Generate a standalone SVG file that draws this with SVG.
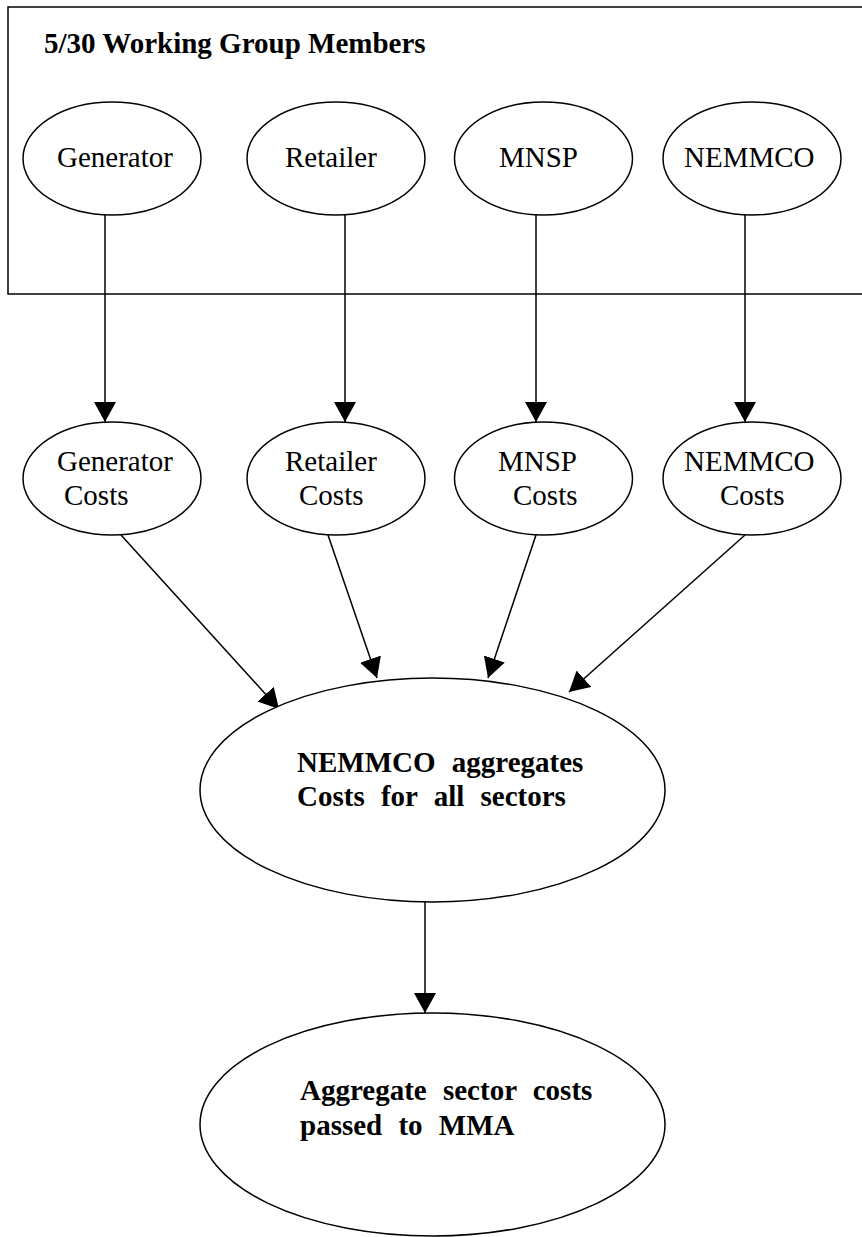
<svg xmlns="http://www.w3.org/2000/svg" width="862" height="1237" viewBox="0 0 862 1237">
  <style>
    .shape { fill: #ffffff; stroke: #000000; stroke-width: 1.5; }
    .frame { fill: none; stroke: #000000; stroke-width: 1.5; }
    .lbl { font-family: "Liberation Serif", "Times New Roman", serif; font-size: 29px; fill: #000000; }
    .bold { font-family: "Liberation Serif", "Times New Roman", serif; font-size: 29px; font-weight: bold; fill: #000000; word-spacing: 9px; }
    .edge { fill: none; stroke: #000000; stroke-width: 1.5; marker-end: url(#arrow); }
  </style>
  <defs>
    <marker id="arrow" markerUnits="userSpaceOnUse" markerWidth="20" markerHeight="22" refX="20" refY="11" orient="auto" viewBox="0 0 20 22">
      <path d="M0,0 L20,11 L0,22 Z" fill="#000000"/>
    </marker>
  </defs>
  <rect width="862" height="1237" fill="#ffffff"/>

  <g id="group-box">
    <rect class="frame" x="8" y="7" width="870" height="287"/>
    <text class="bold" x="44" y="53" style="word-spacing:0">5/30 Working Group Members</text>
  </g>

  <g id="connectors">
    <line class="edge" x1="105" y1="215" x2="105" y2="422"/>
    <line class="edge" x1="345" y1="215" x2="345" y2="422"/>
    <line class="edge" x1="536" y1="215" x2="536" y2="422"/>
    <line class="edge" x1="745" y1="215" x2="745" y2="422"/>
    <line class="edge" x1="121" y1="535" x2="279" y2="709"/>
    <line class="edge" x1="328" y1="535" x2="377" y2="678"/>
    <line class="edge" x1="536" y1="535" x2="488" y2="678"/>
    <line class="edge" x1="745" y1="535" x2="569" y2="692"/>
    <line class="edge" x1="425" y1="902" x2="425" y2="1013"/>
  </g>

  <g id="generator">
    <ellipse class="shape" cx="112" cy="158.5" rx="89" ry="56.5"/>
    <text class="lbl" x="57" y="167">Generator</text>
  </g>
  <g id="retailer">
    <ellipse class="shape" cx="336" cy="158.5" rx="89" ry="56.5"/>
    <text class="lbl" x="285" y="167">Retailer</text>
  </g>
  <g id="mnsp">
    <ellipse class="shape" cx="543.5" cy="158.5" rx="89" ry="56.5"/>
    <text class="lbl" x="499" y="167">MNSP</text>
  </g>
  <g id="nemmco">
    <ellipse class="shape" cx="752" cy="158.5" rx="89" ry="56.5"/>
    <text class="lbl" x="684" y="167">NEMMCO</text>
  </g>

  <g id="generator-costs">
    <ellipse class="shape" cx="112" cy="478.5" rx="89" ry="56.5"/>
    <text class="lbl" x="57" y="471">Generator</text>
    <text class="lbl" x="64" y="505">Costs</text>
  </g>
  <g id="retailer-costs">
    <ellipse class="shape" cx="336" cy="478.5" rx="89" ry="56.5"/>
    <text class="lbl" x="285" y="471">Retailer</text>
    <text class="lbl" x="299" y="505">Costs</text>
  </g>
  <g id="mnsp-costs">
    <ellipse class="shape" cx="543.5" cy="478.5" rx="89" ry="56.5"/>
    <text class="lbl" x="498" y="471">MNSP</text>
    <text class="lbl" x="513" y="505">Costs</text>
  </g>
  <g id="nemmco-costs">
    <ellipse class="shape" cx="752" cy="478.5" rx="89" ry="56.5"/>
    <text class="lbl" x="684" y="471">NEMMCO</text>
    <text class="lbl" x="720" y="505">Costs</text>
  </g>

  <g id="nemmco-aggregates">
    <ellipse class="shape" cx="432.5" cy="790" rx="232.5" ry="112"/>
    <text class="bold" x="297" y="772">NEMMCO aggregates</text>
    <text class="bold" x="297" y="806">Costs for all sectors</text>
  </g>

  <g id="aggregate-to-mma">
    <ellipse class="shape" cx="432.5" cy="1124.5" rx="232.5" ry="111.5"/>
    <text class="bold" x="300" y="1100">Aggregate sector costs</text>
    <text class="bold" x="300" y="1135">passed to MMA</text>
  </g>
</svg>
